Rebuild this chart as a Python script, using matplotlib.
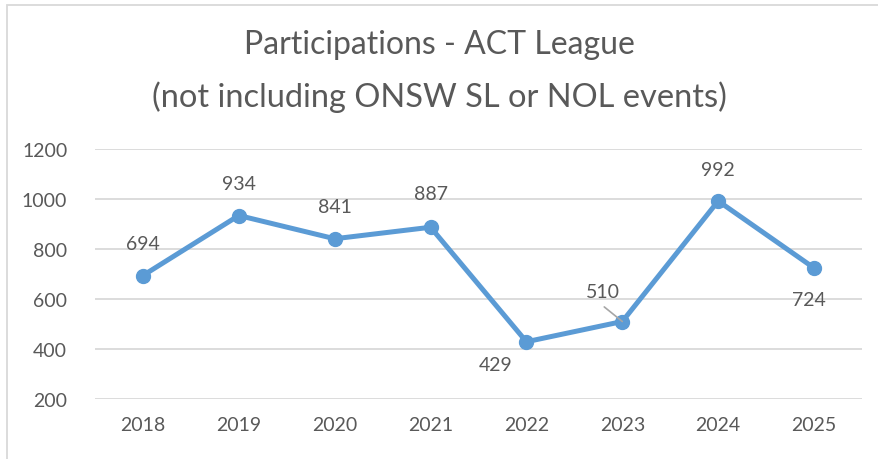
import matplotlib
matplotlib.use("Agg")
import matplotlib.pyplot as plt
from matplotlib.patches import Rectangle

years = ["2018", "2019", "2020", "2021", "2022", "2023", "2024", "2025"]
values = [694, 934, 841, 887, 429, 510, 992, 724]
# label offsets in points (dx, dy) relative to the data point
label_dx = [0, 0, 0, 0, -22, -14, 0, -3.6]
label_dy = [23, 23, 23, 24, -16.5, 21.6, 23, -23]
yticks = [200, 400, 600, 800, 1000, 1200]

TXT = "#595959"
GRID = "#D9D9D9"
LINE = "#5B9BD5"
FONT = ["Lato", "DejaVu Sans"]

fig = plt.figure(figsize=(8.79, 4.60), dpi=100)
fig.patches.append(Rectangle((7/879, -0.1), 1.2, 1 - 6/460 + 0.1, transform=fig.transFigure,
                             fill=False, edgecolor=GRID, linewidth=1.3))
ax = fig.add_axes([95/879, 1 - 400/460, (862-95)/879, 250/460])

x = list(range(len(years)))
ax.plot(x, values, color=LINE, linewidth=3.6, marker="o", markersize=10,
        solid_capstyle="round", zorder=3, clip_on=False)

ax.set_xlim(-0.5, len(years) - 0.5)
ax.set_ylim(200, 1200)
ax.set_yticks(yticks)
ax.set_xticks(x)
ax.set_xticklabels(years)
ax.yaxis.grid(True, color=GRID, linewidth=1.3)
ax.set_axisbelow(True)
for s in ax.spines.values():
    s.set_visible(False)
ax.tick_params(length=0, labelsize=14, labelcolor=TXT, pad=12)
ax.tick_params(axis="y", pad=20)
for t in ax.get_xticklabels() + ax.get_yticklabels():
    t.set_family(FONT)

for i, v in enumerate(values):
    ax.annotate(str(v), xy=(i, v), xytext=(label_dx[i], label_dy[i]), textcoords="offset points",
                ha="center", va="center", fontsize=14, color=TXT, family=FONT)
    if years[i] == "2023":
        # leader line from the label to the point
        ax.annotate("", xy=(i, v), xytext=(-13, 10.5), textcoords="offset points",
                    arrowprops=dict(arrowstyle="-", color="#A6A6A6", lw=1.2,
                                    shrinkA=0, shrinkB=0), zorder=4)

fig.text(0.5, 1 - 45/460, "Participations - ACT League", ha="center", va="center",
         fontsize=23, color=TXT, family=FONT)
fig.text(0.5, 1 - 97/460, "(not including ONSW SL or NOL events)", ha="center", va="center",
         fontsize=23.5, color=TXT, family=FONT)

fig.savefig("out.png", dpi=100)
